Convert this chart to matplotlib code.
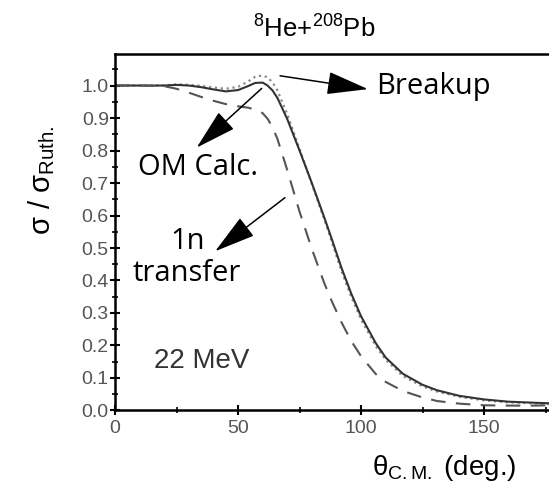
import matplotlib
matplotlib.use("Agg")
import matplotlib.pyplot as plt
from matplotlib.ticker import MultipleLocator, FormatStrFormatter

plt.rcParams['font.family'] = ['Liberation Sans', 'DejaVu Sans']
plt.rcParams['mathtext.fontset'] = 'custom'
plt.rcParams['mathtext.rm'] = 'Liberation Sans'
plt.rcParams['mathtext.it'] = 'Liberation Sans:italic'

# scattering angle (deg) and sigma/sigma_Ruth for each calculation
theta = [0, 10, 20, 25, 30, 35, 40, 45, 50, 54, 57, 60, 62, 64, 66, 70, 75,
         80, 85, 88, 92, 96, 100, 106, 110, 117, 125, 131, 140, 150, 160, 170, 177]
om_calc = [1.0, 1.0, 1.0, 1.002, 1.0, 0.995, 0.988, 0.982, 0.986, 0.998, 1.008,
           1.009, 1.0, 0.985, 0.962, 0.897, 0.80, 0.70, 0.595, 0.53, 0.44,
           0.36, 0.29, 0.207, 0.163, 0.113, 0.079, 0.062, 0.045, 0.034, 0.027,
           0.024, 0.022]
breakup = [1.0, 1.0, 1.0, 1.004, 1.002, 0.999, 0.994, 0.99, 0.996, 1.012, 1.027,
           1.031, 1.025, 1.01, 0.985, 0.912, 0.805, 0.697, 0.59, 0.522, 0.43,
           0.35, 0.28, 0.198, 0.156, 0.106, 0.074, 0.058, 0.042, 0.031, 0.025,
           0.022, 0.02]
transfer = [1.0, 1.0, 0.998, 0.99, 0.978, 0.965, 0.953, 0.943, 0.936, 0.932, 0.926,
            0.915, 0.898, 0.872, 0.836, 0.74, 0.612, 0.497, 0.393, 0.338, 0.272,
            0.214, 0.167, 0.112, 0.088, 0.06, 0.04, 0.029, 0.021, 0.016, 0.015,
            0.015, 0.016]

fig = plt.figure(figsize=(5.49, 4.91), dpi=100)
ax = fig.add_axes([0.2095, 0.164, 0.7905, 0.726])

ax.plot(theta, breakup, color='#8a8a8a', lw=1.6, ls=':')
ax.plot(theta, om_calc, color='#333333', lw=1.5)
ax.plot(theta, transfer, color='#555555', lw=1.5, dashes=(7, 5))

ax.set_xlim(0, 176.4)
ax.set_ylim(0, 1.097)
ax.spines['right'].set_visible(False)
for s in ['left', 'bottom', 'top']:
    ax.spines[s].set_linewidth(1.8)

ax.xaxis.set_major_locator(MultipleLocator(50))
ax.xaxis.set_minor_locator(MultipleLocator(25))
ax.yaxis.set_major_locator(MultipleLocator(0.1))
ax.yaxis.set_minor_locator(MultipleLocator(0.05))
ax.yaxis.set_major_formatter(FormatStrFormatter('%.1f'))
ax.tick_params(which='major', direction='inout', length=7, width=1.5,
               labelsize=14, labelcolor='#555555')
ax.tick_params(which='minor', direction='inout', length=4, width=1.2)
ax.tick_params(axis='y', pad=1)
ax.tick_params(axis='x', pad=3)
ax.tick_params(top=False, right=False, which='both')

fig.text(0.572, 0.941, r'$^{8}$He+$^{208}$Pb', ha='center', va='center',
         fontsize=18.5)
fig.text(0.076, 0.633, 'σ / σ$_{\\mathrm{Ruth.}}$', rotation=90,
         ha='center', va='center', fontsize=21)
fig.text(0.81, 0.047, 'θ$_{\\mathrm{C.M.}}$ (deg.)', ha='center', va='center',
         fontsize=20)

lab = dict(family=['Open Sans', 'DejaVu Sans'], fontsize=21)
arrow = dict(arrowstyle='-|>,head_length=1.3,head_width=0.36',
             mutation_scale=20, color='black', lw=1.1, shrinkA=0, shrinkB=0)

ax.annotate('', xy=(102.8, 0.989), xytext=(67.1, 1.030), arrowprops=arrow)
ax.text(106, 0.997, 'Breakup', ha='left', va='center', **lab)

ax.annotate('', xy=(33.2, 0.809), xytext=(59.6, 0.991), arrowprops=arrow)
ax.text(33.7, 0.748, 'OM Calc.', ha='center', va='center', **lab)

ax.annotate('', xy=(40.7, 0.49), xytext=(69.1, 0.655), arrowprops=arrow)
ax.text(29.3, 0.47, '1n\ntransfer', ha='center', va='center',
        multialignment='center', linespacing=1.15, **lab)

ax.text(35.2, 0.151, '22 MeV', ha='center', va='center', fontsize=20,
        color='#333333')

fig.savefig('out.png', dpi=100)
